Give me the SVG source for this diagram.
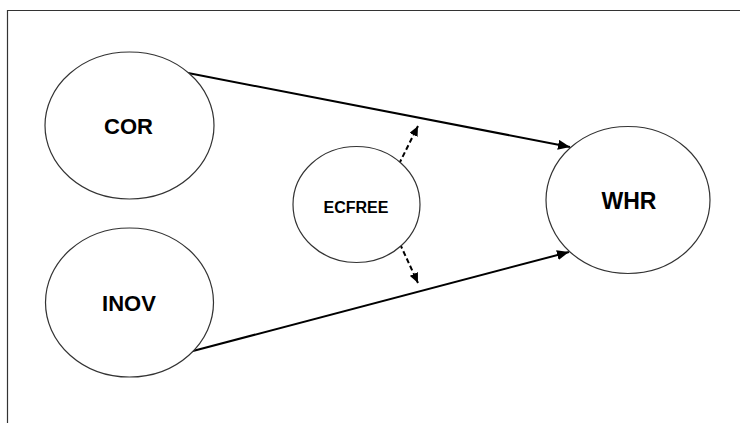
<svg xmlns="http://www.w3.org/2000/svg" width="740" height="423" viewBox="0 0 740 423">
  <defs>
    <marker id="arrow" viewBox="0 0 12 10" refX="12" refY="5" markerWidth="12" markerHeight="10" markerUnits="userSpaceOnUse" orient="auto">
      <path d="M0,0 L12,5 L0,10 Z" fill="#000"/>
    </marker>
    <marker id="arrow-small" viewBox="0 0 10 9" refX="10" refY="4.5" markerWidth="10" markerHeight="9" markerUnits="userSpaceOnUse" orient="auto">
      <path d="M0,0 L10,4.5 L0,9 Z" fill="#000"/>
    </marker>
  </defs>
  <style>
    .node { fill: #fff; stroke: #333; stroke-width: 1.2; }
    .label { font-family: "Liberation Sans", Arial, sans-serif; font-weight: bold; fill: #000; text-anchor: middle; }
    .edge { stroke: #000; stroke-width: 2; fill: none; }
    .dashed { stroke: #000; stroke-width: 2; fill: none; stroke-dasharray: 5 3; }
    .frame { stroke: #333; stroke-width: 1.2; fill: none; }
  </style>
  <rect width="740" height="423" fill="#fff"/>
  <path class="frame" d="M7.5,423 V10.5 H740"/>

  <g id="connectors">
    <line class="edge" x1="188" y1="73" x2="570" y2="147" marker-end="url(#arrow)"/>
    <line class="edge" x1="191" y1="351.5" x2="569" y2="252" marker-end="url(#arrow)"/>
    <line class="dashed" x1="399" y1="164" x2="418" y2="126" marker-end="url(#arrow-small)"/>
    <line class="dashed" x1="400" y1="244" x2="418" y2="283" marker-end="url(#arrow-small)"/>
  </g>

  <g id="COR">
    <ellipse class="node" cx="129.5" cy="125.5" rx="84.5" ry="73.5"/>
    <text class="label" x="128.5" y="134" font-size="22">COR</text>
  </g>
  <g id="INOV">
    <ellipse class="node" cx="129.5" cy="302.5" rx="84" ry="74.5"/>
    <text class="label" x="129" y="311" font-size="22">INOV</text>
  </g>
  <g id="ECFREE">
    <ellipse class="node" cx="356.5" cy="204.5" rx="63.5" ry="58"/>
    <text class="label" x="356" y="213" font-size="16">ECFREE</text>
  </g>
  <g id="WHR">
    <ellipse class="node" cx="628" cy="200" rx="82" ry="73.5"/>
    <text class="label" x="629" y="209" font-size="23">WHR</text>
  </g>
</svg>
